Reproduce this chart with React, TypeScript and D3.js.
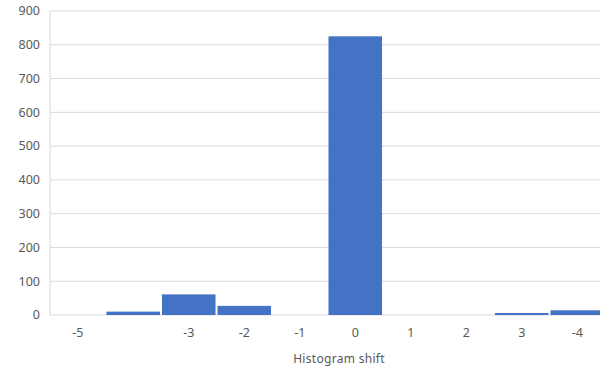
import React from "react";
import * as d3 from "d3";

// Histogram of shift counts per bin
const categories = ["-5", "", "-3", "-2", "-1", "0", "1", "2", "3", "-4"];
const counts = [0, 10, 61, 27, 0, 825, 0, 0, 6, 14];
const yTicks = [0, 100, 200, 300, 400, 500, 600, 700, 800, 900];
const xTitle = "Histogram shift";

const W = 600;
const H = 375;
const margin = { top: 11, right: -5, bottom: 60, left: 50 };

export default function App() {
  const x = d3
    .scaleBand<number>()
    .domain(d3.range(categories.length))
    .range([margin.left, W - margin.right])
    .paddingInner(0.035)
    .paddingOuter(0.0175);
  const band = d3
    .scaleBand<number>()
    .domain(d3.range(categories.length))
    .range([margin.left, W - margin.right]);
  const y = d3
    .scaleLinear()
    .domain([0, 900])
    .range([H - margin.bottom, margin.top]);

  const font = "'Noto Sans', 'Open Sans', sans-serif";
  const textColor = "#595959";

  return (
    <svg
      width={W}
      height={H}
      style={{ position: "absolute", left: 0, top: 0, background: "#fff" }}
    >
      {/* gridlines */}
      {yTicks.map((t) => (
        <line
          key={t}
          x1={margin.left}
          x2={W}
          y1={y(t)}
          y2={y(t)}
          stroke="#d9d9d9"
          strokeWidth={1}
        />
      ))}
      {/* left axis line */}
      <line
        x1={margin.left}
        x2={margin.left}
        y1={y(900)}
        y2={y(0)}
        stroke="#d9d9d9"
        strokeWidth={1}
      />
      {/* y tick labels */}
      {yTicks.map((t) => (
        <text
          key={"l" + t}
          x={40}
          y={y(t)}
          dy="0.35em"
          textAnchor="end"
          fontFamily={font}
          fontSize={12.5}
          fill={textColor}
        >
          {t}
        </text>
      ))}
      {/* bars */}
      {counts.map((v, i) => (
        <rect
          key={"b" + i}
          x={x(i)}
          y={y(v)}
          width={x.bandwidth()}
          height={y(0) - y(v)}
          fill="#4472c4"
        />
      ))}
      {/* x tick labels */}
      {categories.map((c, i) => (
        <text
          key={"x" + i}
          x={(band(i) as number) + band.bandwidth() / 2}
          y={333}
          dy="0.35em"
          textAnchor="middle"
          fontFamily={font}
          fontSize={12.5}
          fill={textColor}
        >
          {c}
        </text>
      ))}
      {/* axis title */}
      <text
        x={339}
        y={359}
        dy="0.35em"
        textAnchor="middle"
        fontFamily={font}
        fontSize={12}
        letterSpacing={0.3}
        fill={textColor}
      >
        {xTitle}
      </text>
    </svg>
  );
}
